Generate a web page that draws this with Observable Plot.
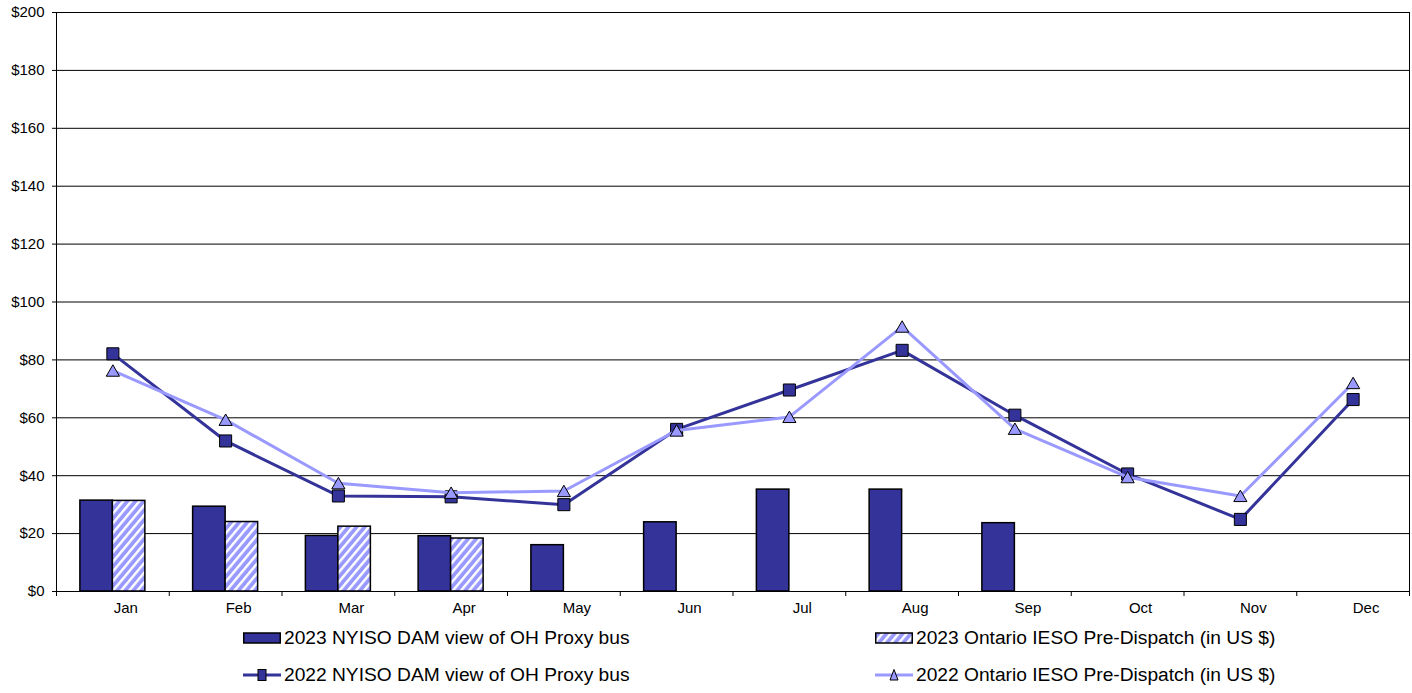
<!DOCTYPE html>
<html><head><meta charset="utf-8">
<script src="https://cdn.jsdelivr.net/npm/d3@7"></script>
<script src="https://cdn.jsdelivr.net/npm/@observablehq/plot@0.6"></script>
<style>
body{margin:0;background:#fff;font-family:Arial,"Liberation Sans",sans-serif;}
#chart{width:1412px;height:622px;}
#legend{position:relative;height:71px;width:1412px;}
.item{position:absolute;display:flex;align-items:center;font-size:19.2px;color:#000;white-space:nowrap;height:24px;}
.item svg{margin-right:3px;}
</style></head><body>
<div id="chart"></div>
<div id="legend"></div>
<script>
const months = ["Jan","Feb","Mar","Apr","May","Jun","Jul","Aug","Sep","Oct","Nov","Dec"];
const nyiso2023 = [31.4, 29.3, 19.2, 19.1, 16.0, 23.9, 35.2, 35.2, 23.6, null, null, null];
const ieso2023  = [31.3, 24.0, 22.4, 18.3, null, null, null, null, null, null, null, null];
const nyiso2022 = [82.1, 52.0, 33.0, 32.7, 30.0, 56.0, 69.6, 83.3, 60.9, 40.6, 24.9, 66.3];
const ieso2022  = [76.3, 59.3, 37.4, 34.1, 34.7, 55.6, 60.3, 91.5, 56.2, 39.5, 33.0, 72.0];
const yTicks = [0, 20, 40, 60, 80, 100, 120, 140, 160, 180, 200];
const seriesNames = [
  "2023 NYISO DAM view of OH Proxy bus",
  "2023 Ontario IESO Pre-Dispatch (in US $)",
  "2022 NYISO DAM view of OH Proxy bus",
  "2022 Ontario IESO Pre-Dispatch (in US $)"
];

const DARK = "#333399", LIGHT = "#9999FF";
const W = 1412, H = 622, ML = 56, MR = 3, MT = 12, MB = 31;
const bw = (W - ML - MR) / months.length;
const barW = 32.5;

const rows = months.map((m, i) => ({m, a: nyiso2023[i], b: ieso2023[i], c: nyiso2022[i], d: ieso2022[i]}));
const barsA = rows.filter(d => d.a != null);
const barsB = rows.filter(d => d.b != null);

const plot = Plot.plot({
  width: W, height: H,
  marginLeft: ML, marginRight: MR, marginTop: MT, marginBottom: MB,
  style: {fontFamily: "Arial, 'Liberation Sans', sans-serif", background: "#fff", color: "#000"},
  x: {type: "band", domain: months, paddingInner: 0, paddingOuter: 0, round: false},
  y: {domain: [0, 200]},
  marks: [
    Plot.ruleY(yTicks, {stroke: "#000", strokeWidth: 1}),
    Plot.barY(barsA, {x: "m", y: "a", fill: DARK, stroke: "#000", strokeWidth: 1.5,
      insetLeft: bw / 2 - barW, insetRight: bw / 2}),
    Plot.barY(barsB, {x: "m", y: "b", fill: "url(#stripes)", stroke: "#000", strokeWidth: 1.5,
      insetLeft: bw / 2, insetRight: bw / 2 - barW}),
    Plot.line(rows, {x: "m", y: "c", stroke: DARK, strokeWidth: 3}),
    Plot.dot(rows, {x: "m", y: "c", symbol: "square", r: 6.8, fill: DARK, stroke: "#000", strokeWidth: 1}),
    Plot.line(rows, {x: "m", y: "d", stroke: LIGHT, strokeWidth: 3}),
    Plot.dot(rows, {x: "m", y: "d", symbol: "triangle", r: 4.9, dy: 1.8, fill: LIGHT, stroke: "#000", strokeWidth: 1}),
    Plot.frame({stroke: "#000", strokeWidth: 1}),
    Plot.axisY({ticks: yTicks, tickFormat: d => "$" + d, tickSize: 4, tickPadding: 8, fontSize: 15, label: null, stroke: "#000"}),
    Plot.axisX({tickSize: 5, tickFormat: () => "", dx: -bw / 2, label: null}),
    Plot.axisX({ticks: ["Dec"], tickSize: 5, tickFormat: () => "", dx: bw / 2, label: null}),
    Plot.axisX({tickSize: 0, tickPadding: 11, dx: 13, fontSize: 15, label: null})
  ]
});

// stripe pattern
const ns = "http://www.w3.org/2000/svg";
const patternSVG = id => `<pattern id="${id}" patternUnits="userSpaceOnUse" width="6.2" height="6.2" patternTransform="rotate(40)">
    <rect width="6.2" height="6.2" fill="${LIGHT}"/>
    <rect x="0" width="2.4" height="6.2" fill="#fff"/>
  </pattern>`;
const defs = document.createElementNS(ns, "defs");
defs.innerHTML = patternSVG("stripes");
plot.insertBefore(defs, plot.firstChild);
document.getElementById("chart").appendChild(plot);

// legend
const legend = document.getElementById("legend");
const swatches = [
  `<svg width="38" height="14"><rect x="0.75" y="2" width="36.5" height="10" fill="${DARK}" stroke="#000" stroke-width="1.5"/></svg>`,
  `<svg width="38" height="14"><defs>${patternSVG("stripesL")}</defs><rect x="0.75" y="2" width="36.5" height="10" fill="url(#stripesL)" stroke="#000" stroke-width="1.5"/></svg>`,
  `<svg width="38" height="14"><line x1="0" y1="7" x2="38" y2="7" stroke="${DARK}" stroke-width="3"/><rect x="15" y="1.5" width="8" height="11" fill="${DARK}" stroke="#000" stroke-width="1"/></svg>`,
  `<svg width="38" height="14"><line x1="0" y1="7" x2="38" y2="7" stroke="${LIGHT}" stroke-width="3"/><path d="M19,1.5 L23,12 L15,12 Z" fill="${LIGHT}" stroke="#000" stroke-width="1"/></svg>`
];
const pos = [[243, 4], [875, 4], [243, 41], [875, 41]];
seriesNames.forEach((name, i) => {
  const el = document.createElement("div");
  el.className = "item";
  el.style.left = pos[i][0] + "px";
  el.style.top = pos[i][1] + "px";
  el.innerHTML = swatches[i] + `<span>${name}</span>`;
  legend.appendChild(el);
});
</script>
</body></html>
